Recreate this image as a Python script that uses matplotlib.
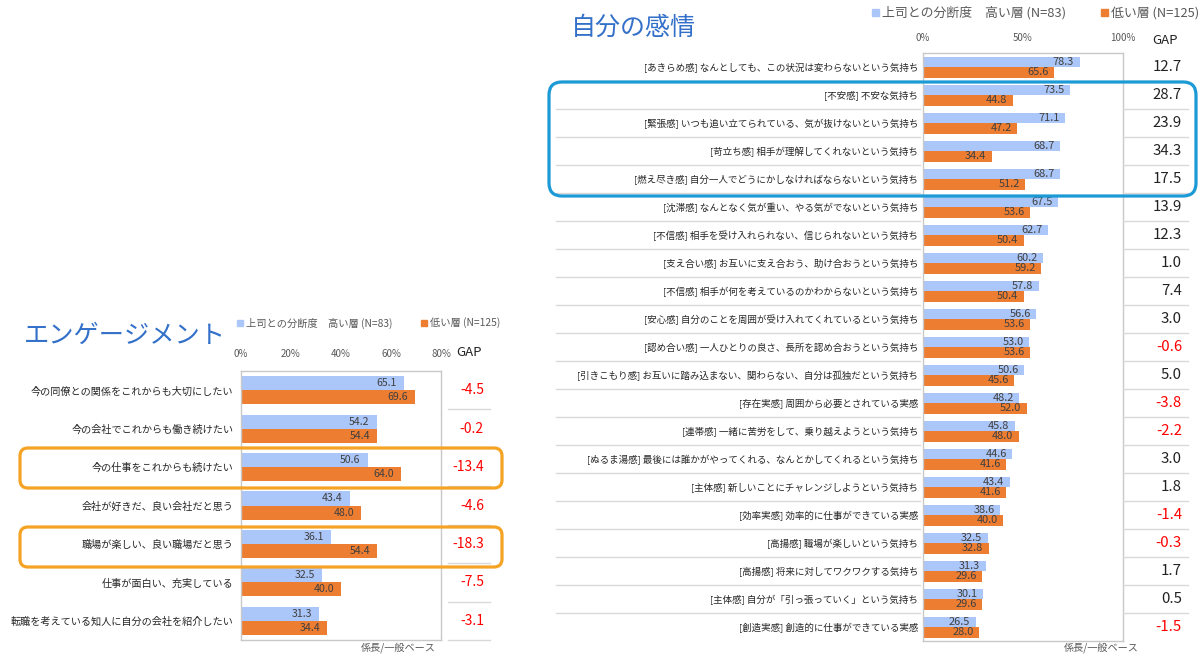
import numpy as np
import matplotlib
matplotlib.use('Agg')
import matplotlib.pyplot as plt
from matplotlib.patches import FancyBboxPatch, Rectangle
from matplotlib.transforms import blended_transform_factory

plt.rcParams['font.family'] = ['Noto Sans CJK JP', 'DejaVu Sans']

# ---------------- data ----------------
eng_labels = ["今の同僚との関係をこれからも大切にしたい",
              "今の会社でこれからも働き続けたい",
              "今の仕事をこれからも続けたい",
              "会社が好きだ、良い会社だと思う",
              "職場が楽しい、良い職場だと思う",
              "仕事が面白い、充実している",
              "転職を考えている知人に自分の会社を紹介したい"]
eng_high = [65.1, 54.2, 50.6, 43.4, 36.1, 32.5, 31.3]
eng_low = [69.6, 54.4, 64.0, 48.0, 54.4, 40.0, 34.4]
eng_gap = [-4.5, -0.2, -13.4, -4.6, -18.3, -7.5, -3.1]
eng_ticks = [0, 20, 40, 60, 80]

emo_labels = ["[あきらめ感] なんとしても、この状況は変わらないという気持ち",
              "[不安感] 不安な気持ち",
              "[緊張感] いつも追い立てられている、気が抜けないという気持ち",
              "[苛立ち感] 相手が理解してくれないという気持ち",
              "[燃え尽き感] 自分一人でどうにかしなければならないという気持ち",
              "[沈滞感] なんとなく気が重い、やる気がでないという気持ち",
              "[不信感] 相手を受け入れられない、信じられないという気持ち",
              "[支え合い感] お互いに支え合おう、助け合おうという気持ち",
              "[不信感] 相手が何を考えているのかわからないという気持ち",
              "[安心感] 自分のことを周囲が受け入れてくれているという気持ち",
              "[認め合い感] 一人ひとりの良さ、長所を認め合おうという気持ち",
              "[引きこもり感] お互いに踏み込まない、関わらない、自分は孤独だという気持ち",
              "[存在実感] 周囲から必要とされている実感",
              "[連帯感] 一緒に苦労をして、乗り越えようという気持ち",
              "[ぬるま湯感] 最後には誰かがやってくれる、なんとかしてくれるという気持ち",
              "[主体感] 新しいことにチャレンジしようという気持ち",
              "[効率実感] 効率的に仕事ができている実感",
              "[高揚感] 職場が楽しいという気持ち",
              "[高揚感] 将来に対してワクワクする気持ち",
              "[主体感] 自分が「引っ張っていく」という気持ち",
              "[創造実感] 創造的に仕事ができている実感"]
emo_high = [78.3, 73.5, 71.1, 68.7, 68.7, 67.5, 62.7, 60.2, 57.8, 56.6, 53.0,
            50.6, 48.2, 45.8, 44.6, 43.4, 38.6, 32.5, 31.3, 30.1, 26.5]
emo_low = [65.6, 44.8, 47.2, 34.4, 51.2, 53.6, 50.4, 59.2, 50.4, 53.6, 53.6,
           45.6, 52.0, 48.0, 41.6, 41.6, 40.0, 32.8, 29.6, 29.6, 28.0]
emo_gap = [12.7, 28.7, 23.9, 34.3, 17.5, 13.9, 12.3, 1.0, 7.4, 3.0, -0.6,
           5.0, -3.8, -2.2, 3.0, 1.8, -1.4, -0.3, 1.7, 0.5, -1.5]
emo_ticks = [0, 50, 100]

legend_high = "上司との分断度　高い層 (N=83)"
legend_low = "低い層 (N=125)"

# ---------------- style ----------------
W, H = 1200, 661
BLUE = '#abc6f8'
ORANGE = '#ed7d31'
TITLE = '#3370c9'
GRAY = '#595959'
SEP = '#d9d9d9'

fig = plt.figure(figsize=(12, 6.61), dpi=100)


def fx(px):
    return px / W


def panel(left, top, right, bottom, xmax, ticks, labels, high, low, gap,
          bar_h, lab_fs, ylab_pad, tick_pad, val_off, val_fs, gap_x, gap_fs,
          sep_l, sep_r, gap_sep_l, gap_sep_r, bottom_sep):
    ax = fig.add_axes([fx(left), 1 - bottom / H, (right - left) / W, (bottom - top) / H])
    n = len(labels)
    y = np.arange(n)
    ax.barh(y - bar_h / 2, high, height=bar_h, color=BLUE, zorder=2)
    ax.barh(y + bar_h / 2, low, height=bar_h, color=ORANGE, zorder=2)
    ax.set_xlim(0, xmax)
    ax.set_ylim(n - 0.5, -0.5)
    ax.xaxis.tick_top()
    ax.set_xticks(ticks)
    ax.set_xticklabels([f'{t}%' for t in ticks], fontsize=7, color=GRAY)
    ax.tick_params(axis='x', length=0, pad=tick_pad)
    ax.set_yticks(y)
    ax.set_yticklabels(labels, fontsize=lab_fs, color='#262626')
    ax.tick_params(axis='y', length=0, pad=ylab_pad)
    for s in ax.spines.values():
        s.set_color('#c8c8c8')
        s.set_linewidth(1.0)
    for i in range(n):
        ax.annotate(f'{high[i]:.1f}', (high[i], y[i] - bar_h / 2), xytext=(val_off, 0),
                    textcoords='offset points', ha='right', va='center',
                    fontsize=val_fs, color='#404040', zorder=3)
        ax.annotate(f'{low[i]:.1f}', (low[i], y[i] + bar_h / 2), xytext=(val_off, 0),
                    textcoords='offset points', ha='right', va='center',
                    fontsize=val_fs, color='#404040', zorder=3)
    tr = blended_transform_factory(fig.transFigure, ax.transData)
    for i in range(n):
        c = '#ff0000' if gap[i] < 0 else '#222222'
        fig.text(fx(gap_x), y[i], f'{gap[i]:.1f}', transform=tr, ha='right',
                 va='center', fontsize=gap_fs, color=c)
    bounds = list(np.arange(n - 1) + 0.5)
    for b in bounds:
        if sep_l is not None:
            fig.add_artist(plt.Line2D([fx(sep_l), fx(sep_r)], [b, b], transform=tr,
                                      color=SEP, lw=1.0))
        fig.add_artist(plt.Line2D([fx(gap_sep_l), fx(gap_sep_r)], [b, b], transform=tr,
                                  color=SEP, lw=1.0))
    if bottom_sep:
        fig.add_artist(plt.Line2D([fx(gap_sep_l), fx(gap_sep_r)], [n - 0.5, n - 0.5],
                                  transform=tr, color=SEP, lw=1.0))
    return ax


ax1 = panel(241, 371, 441, 640, 80, eng_ticks, eng_labels, eng_high, eng_low, eng_gap,
            0.365, 7.3, 5.5, 9, -5, 7.6, 484, 10, None, None, 448, 490, True)
ax2 = panel(923, 53, 1123, 641, 100, emo_ticks, emo_labels, emo_high, emo_low, emo_gap,
            0.375, 6.85, 3.5, 7, -4, 7.9, 1182, 10.8, 556, 920, 1123, 1188, False)

# overlay in pixel coordinates
ov = fig.add_axes([0, 0, 1, 1], zorder=10)
ov.set_xlim(0, W)
ov.set_ylim(H, 0)
ov.axis('off')
ov.patch.set_alpha(0)

# GAP headers
ov.text(469, 353, 'GAP', fontsize=9.5, color='#222222', ha='center', va='center')
ov.text(1165, 40, 'GAP', fontsize=9.5, color='#222222', ha='center', va='center')

# titles
ov.text(24, 336, 'エンゲージメント', fontsize=18.2, color=TITLE, ha='left', va='center')
ov.text(571, 28, '自分の感情', fontsize=18, color=TITLE, ha='left', va='center')

# legends
def legend(xb, xo, yc, fs, sq):
    ov.add_patch(Rectangle((xb, yc - sq / 2 - 0.5), sq, sq, color=BLUE))
    ov.text(xb + sq + 3, yc, legend_high, fontsize=fs, color=GRAY, ha='left', va='center')
    ov.add_patch(Rectangle((xo, yc - sq / 2 - 0.5), sq, sq, color=ORANGE))
    ov.text(xo + sq + 3, yc, legend_low, fontsize=fs, color=GRAY, ha='left', va='center')

legend(237, 421, 323, 7.4, 6)
legend(872, 1101, 13, 9.3, 7)

# base notes
ov.text(398, 648, '係長/一般ベース', fontsize=7.3, color=GRAY, ha='center', va='center')
ov.text(1101, 648, '係長/一般ベース', fontsize=7.3, color=GRAY, ha='center', va='center')

# highlight boxes
def rbox(x0, y0, x1, y1, color, r):
    ov.add_patch(FancyBboxPatch((x0 + r, y0 + r), (x1 - x0) - 2 * r, (y1 - y0) - 2 * r,
                                boxstyle=f'round,pad={r}', fill=False, ec=color, lw=2.3))

rbox(20, 448, 502, 488, '#f5a324', 8)
rbox(20, 527, 502, 567, '#f5a324', 8)
rbox(549, 82, 1196, 196, '#1b9ad6', 13)

fig.savefig('out.png', dpi=100)
